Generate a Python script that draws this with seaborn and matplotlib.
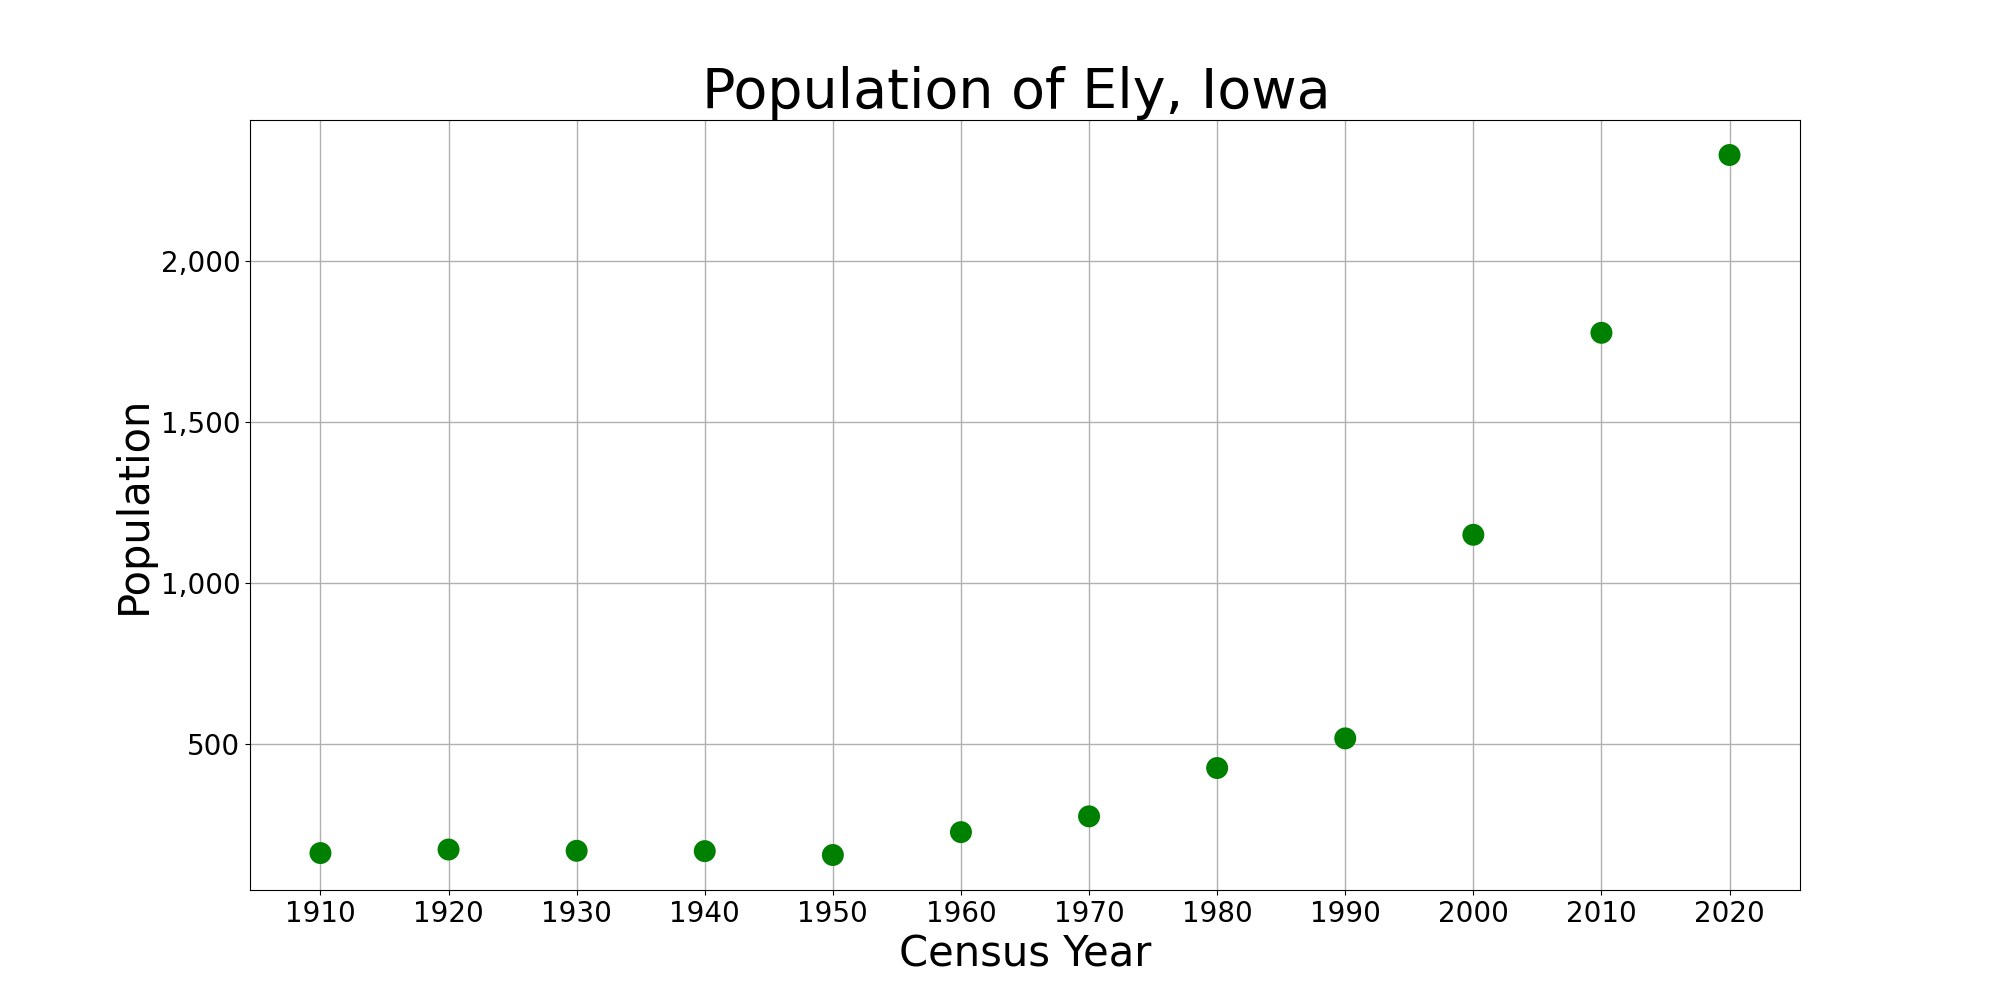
import matplotlib
matplotlib.use("Agg")
import matplotlib.pyplot as plt
import matplotlib.ticker as mticker
import seaborn as sns
import pandas as pd

# Census data for Ely, Iowa
years = [1910, 1920, 1930, 1940, 1950, 1960, 1970, 1980, 1990, 2000, 2010, 2020]
population = [161, 172, 168, 167, 155, 226, 275, 425, 517, 1149, 1776, 2328]

df = pd.DataFrame({"Census Year": years, "Population": population})

fig, ax = plt.subplots(figsize=(20, 10), dpi=100)
sns.scatterplot(data=df, x="Census Year", y="Population", color="green",
                s=250, edgecolor="none", ax=ax, zorder=3)

ax.set_title("Population of Ely, Iowa ", fontsize=40)
ax.set_xlabel("Census Year", fontsize=30)
ax.set_ylabel("Population", fontsize=30)
ax.set_xticks(years)
ax.tick_params(axis="both", labelsize=20)
ax.yaxis.set_major_formatter(mticker.FuncFormatter(lambda v, p: f"{int(v):,}"))
ax.grid(True, color="#b0b0b0", linewidth=1)
ax.set_axisbelow(True)

plt.savefig("out.png")
